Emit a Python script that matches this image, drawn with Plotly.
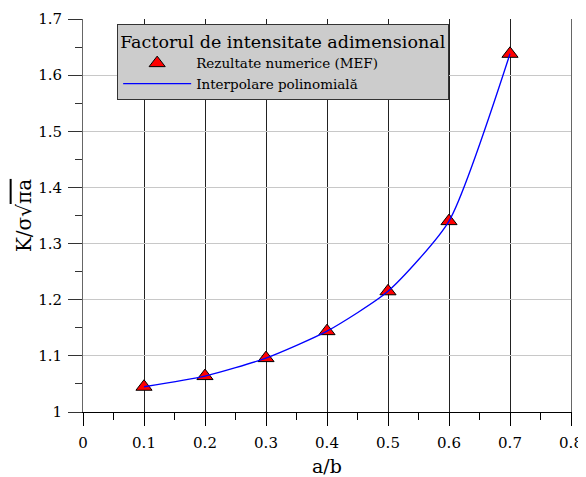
import plotly.graph_objects as go

a_b = [0.1, 0.2, 0.3, 0.4, 0.5, 0.6, 0.7]
k_vals = [1.045, 1.064, 1.096, 1.144, 1.215, 1.340, 1.638]

FONT = "DejaVu Serif"

fig = go.Figure()
fig.add_trace(go.Scatter(
    x=a_b, y=k_vals, mode="markers", name="Rezultate numerice (MEF)",
    marker=dict(symbol="triangle-up", size=14, color="#ff0000",
                line=dict(color="#000000", width=1)),
))
fig.add_trace(go.Scatter(
    x=a_b, y=k_vals, mode="lines", name="Interpolare polinomială",
    line=dict(color="#0000ff", width=1.3, shape="spline", smoothing=0.6),
))

fig.update_layout(
    width=586, height=477,
    margin=dict(l=75, r=23, t=11, b=73),
    paper_bgcolor="white", plot_bgcolor="white",
    font=dict(family=FONT, color="#000000", size=15),
    showlegend=True,
    legend=dict(
        x=0.07, y=0.987, xanchor="left", yanchor="top",
        bgcolor="#cccccc", bordercolor="#333333", borderwidth=1,
        title=dict(text="Factorul de intensitate adimensional", font=dict(size=17.5, family=FONT)),
        font=dict(size=13.5, family=FONT),
        traceorder="normal", itemwidth=68,
    ),
    xaxis=dict(
        range=[0, 0.8], dtick=0.1, tick0=0, automargin=False,
        showgrid=True, gridcolor="#222222", gridwidth=1,
        showline=True, linecolor="#000000", linewidth=1,
        ticks="outside", ticklen=13, tickcolor="#000000",
        tickfont=dict(size=15), ticklabelstandoff=4,
        minor=dict(dtick=0.05, ticks="outside", ticklen=7, tickcolor="#000000", showgrid=False),
        zeroline=False,
        title=dict(text="a/b", font=dict(size=19), standoff=8),
    ),
    yaxis=dict(
        range=[1, 1.7], dtick=0.1, tick0=1, automargin=False,
        showgrid=True, gridcolor="#c8c8c8", gridwidth=1,
        showline=True, linecolor="#666666", linewidth=1, mirror=True,
        ticks="outside", ticklen=14, tickcolor="#333333",
        tickfont=dict(size=15), ticklabelstandoff=3,
        minor=dict(dtick=0.05, ticks="outside", ticklen=7, tickcolor="#333333", showgrid=False),
        zeroline=False,
        title=dict(text="K/σ√<span style='text-decoration:overline'>πa</span>", font=dict(size=20), standoff=1),
    ),
)

fig.write_html("out.html")
